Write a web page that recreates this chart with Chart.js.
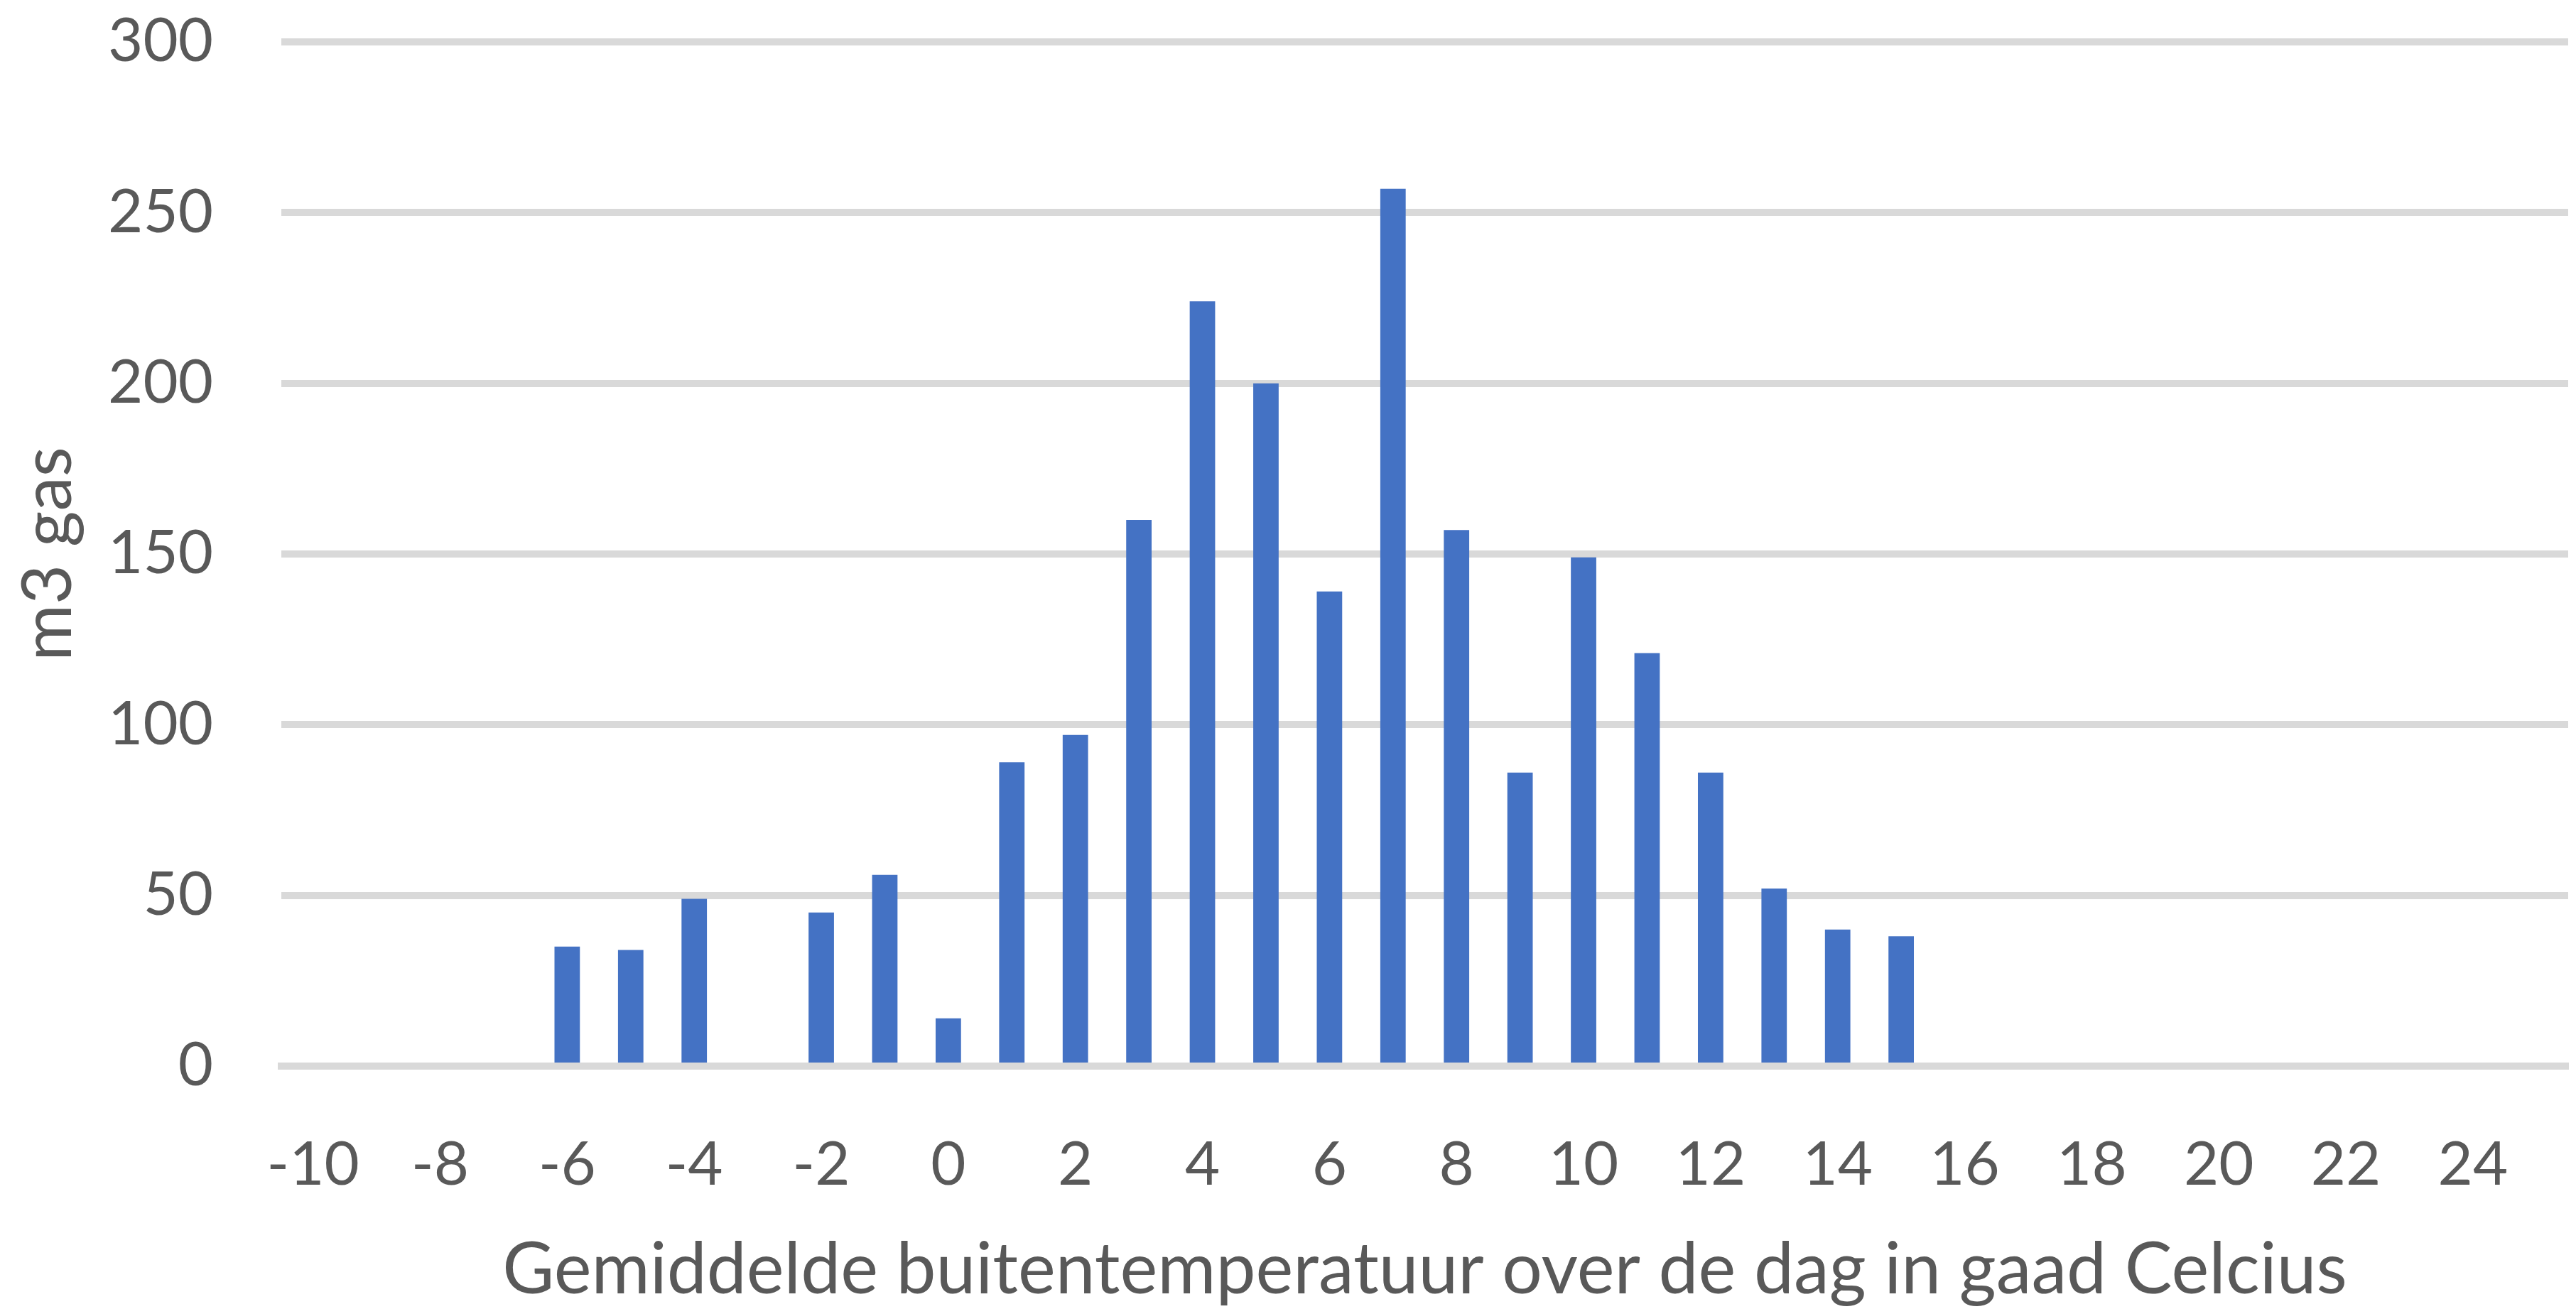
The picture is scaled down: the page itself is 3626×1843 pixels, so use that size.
<!DOCTYPE html>
<html>
<head>
<meta charset="utf-8">
<title>m3 gas per gemiddelde buitentemperatuur</title>
<script src="https://cdn.jsdelivr.net/npm/chart.js@4/dist/chart.umd.min.js"></script>
<style>
    html, body { margin: 0; padding: 0; background: #ffffff; }
    #wrap { width: 3626px; height: 1843px; position: relative; }
</style>
</head>
<body>
<div id="wrap"><canvas id="gas-chart"></canvas></div>
<script>
// Temperature categories (degrees Celsius), -10 .. 25
const temperatures = [-10, -9, -8, -7, -6, -5, -4, -3, -2, -1, 0, 1, 2, 3, 4, 5, 6, 7,
                      8, 9, 10, 11, 12, 13, 14, 15, 16, 17, 18, 19, 20, 21, 22, 23, 24, 25];

// m3 gas per temperature (null = no bar)
const gasUsage = [null, null, null, null, 35, 34, 49, null, 45, 56, 14, 89, 97, 160, 224, 200, 139, 257,
                  157, 86, 149, 121, 86, 52, 40, 38, null, null, null, null, null, null, null, null, null, null];

// Labels that are shown on the x axis
const xTickLabels = [-10, -8, -6, -4, -2, 0, 2, 4, 6, 8, 10, 12, 14, 16, 18, 20, 22, 24];

// Y axis ticks
const yTicks = [0, 50, 100, 150, 200, 250, 300];

const textColor = '#595959';
const gridColor = '#d9d9d9';
const barColor = '#4472c4';
const noColor = 'rgba(0,0,0,0)';

const ctx = document.getElementById('gas-chart').getContext('2d');

new Chart(ctx, {
    type: 'bar',
    data: {
        labels: temperatures,
        datasets: [{
            label: 'm3 gas',
            data: gasUsage,
            backgroundColor: barColor,
            borderWidth: 0,
            barPercentage: 0.4,
            categoryPercentage: 1.0
        }]
    },
    options: {
        responsive: true,
        maintainAspectRatio: false,
        devicePixelRatio: 1,
        animation: false,
        layout: {
            padding: { top: 59, right: 11, left: 0, bottom: 0 }
        },
        plugins: {
            legend: { display: false },
            tooltip: { enabled: false }
        },
        scales: {
            x: {
                offset: true,
                grid: {
                    display: true,
                    drawOnChartArea: false,
                    drawTicks: true,
                    tickLength: 89,
                    tickColor: noColor
                },
                // zero line drawn on top of the bars, like the original
                border: {
                    display: true,
                    color: gridColor,
                    width: 10,
                    z: 1
                },
                ticks: {
                    autoSkip: false,
                    maxRotation: 0,
                    minRotation: 0,
                    padding: 0,
                    color: textColor,
                    font: { family: 'Lato', size: 85 },
                    callback: function (value) {
                        const t = temperatures[value];
                        return xTickLabels.includes(t) ? String(t) : '';
                    }
                },
                title: {
                    display: true,
                    text: 'Gemiddelde buitentemperatuur over de dag in gaad Celcius',
                    color: textColor,
                    font: { family: 'Lato', size: 100, lineHeight: 1 },
                    padding: { top: 0, bottom: 4 }
                },
                afterFit: function (scale) {
                    scale.height = 342;
                }
            },
            y: {
                min: yTicks[0],
                max: yTicks[yTicks.length - 1],
                grid: {
                    color: gridColor,
                    lineWidth: 10,
                    drawTicks: true,
                    tickLength: 96,
                    tickColor: noColor
                },
                border: { display: false },
                ticks: {
                    stepSize: yTicks[1] - yTicks[0],
                    padding: 0,
                    color: textColor,
                    font: { family: 'Lato', size: 85 }
                },
                title: {
                    display: true,
                    text: 'm3 gas',
                    color: textColor,
                    font: { family: 'Lato', size: 97, lineHeight: 1 },
                    padding: { top: 20, bottom: 0 }
                },
                afterFit: function (scale) {
                    scale.width = 396;
                }
            }
        }
    }
});
</script>
</body>
</html>
